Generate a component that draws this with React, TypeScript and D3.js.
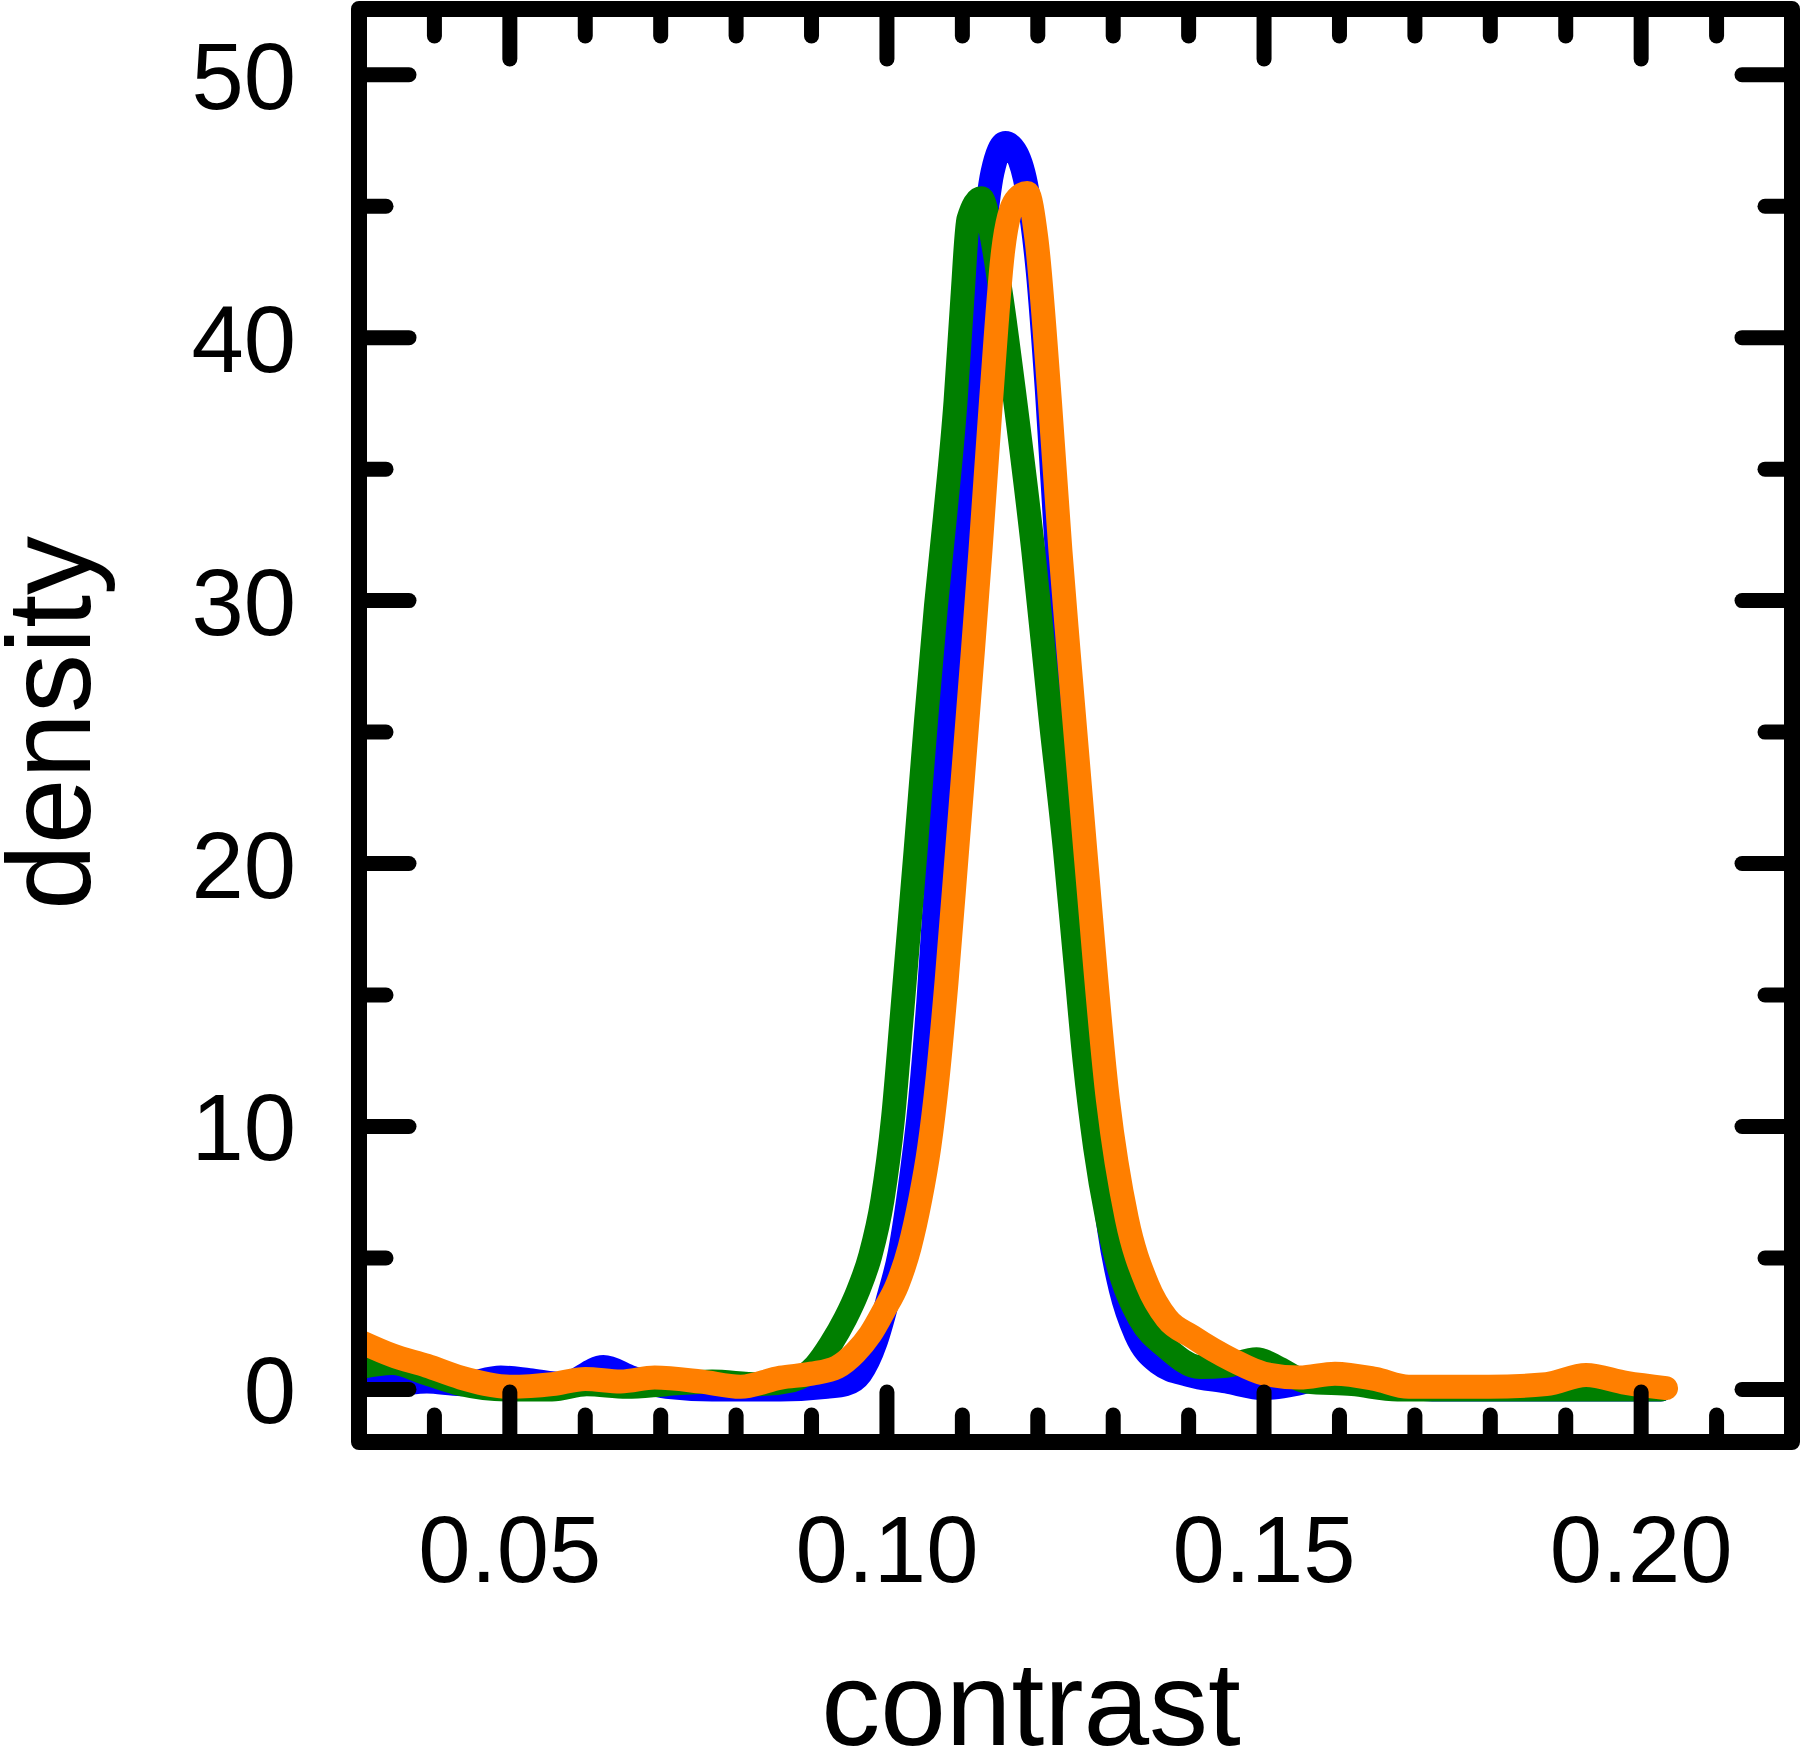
import React from "react";
import * as d3 from "d3";

const xTickMajor = [0.05, 0.1, 0.15, 0.2];
const xTickMajorLabels = ["0.05", "0.10", "0.15", "0.20"];
const xTickMinor = [0.04, 0.06, 0.07, 0.08, 0.09, 0.11, 0.12, 0.13, 0.14, 0.16, 0.17, 0.18, 0.19, 0.21];
const yTickMajor = [0, 10, 20, 30, 40, 50];
const yTickMinor = [5, 15, 25, 35, 45];

const blueX = [0.0303, 0.0344, 0.039, 0.0435, 0.0488, 0.0526, 0.0571, 0.0624, 0.0662, 0.0708, 0.0768, 0.0859, 0.092, 0.0945, 0.0965, 0.0985, 0.1002, 0.1017, 0.1028, 0.1044, 0.1055, 0.1068, 0.1078, 0.1088, 0.11, 0.1112, 0.1126, 0.114, 0.1157, 0.1172, 0.1186, 0.12, 0.1212, 0.1226, 0.124, 0.1255, 0.127, 0.1282, 0.1295, 0.131, 0.133, 0.136, 0.14, 0.145, 0.15, 0.1541, 0.1586, 0.1647, 0.1723, 0.2026];
const blueY = [0.4, 0.2, 0.3, 0.2, 0.45, 0.35, 0.2, 0.85, 0.45, 0.1, 0, 0, 0.1, 0.2, 0.6, 1.8, 3.5, 5.2, 7.2, 11, 14.8, 20.5, 24.5, 28.3, 33, 37.6, 43, 46.3, 47.4, 47, 45.6, 42.5, 38, 31.5, 25.5, 19, 13.2, 9.2, 6, 3.8, 2.1, 1.0, 0.55, 0.3, 0.05, 0.2, 0.45, 0.2, 0, 0];

const greenX = [0.0303, 0.0344, 0.039, 0.0435, 0.0495, 0.0556, 0.0602, 0.0655, 0.0708, 0.0768, 0.0829, 0.0875, 0.0905, 0.0925, 0.0945, 0.0961, 0.0978, 0.0994, 0.1008, 0.102, 0.1038, 0.1052, 0.1065, 0.1077, 0.1091, 0.11, 0.1108, 0.1125, 0.1138, 0.1152, 0.117, 0.1194, 0.1217, 0.1236, 0.1249, 0.1262, 0.1276, 0.1292, 0.1312, 0.1335, 0.137, 0.1415, 0.145, 0.149, 0.152, 0.1556, 0.1617, 0.1677, 0.2026];
const greenY = [0.85, 1.0, 0.6, 0.2, 0, 0, 0.2, 0.1, 0.2, 0.3, 0.2, 0.35, 0.9, 1.7, 2.7, 3.7, 5.1, 7.2, 10.3, 14.3, 20.5, 25.5, 29.8, 33.2, 37.6, 41.5, 44.5, 45.3, 44, 41.5, 37.6, 31.9, 25.5, 20.5, 16.5, 12.5, 9.2, 6.5, 4.2, 2.7, 1.6, 0.85, 0.9, 1.15, 0.8, 0.3, 0.2, 0, 0];

const orangeX = [0.0303, 0.0344, 0.039, 0.0435, 0.05, 0.0556, 0.06, 0.0647, 0.0692, 0.0753, 0.0806, 0.0859, 0.09, 0.0934, 0.0958, 0.0978, 0.0996, 0.1014, 0.103, 0.1044, 0.1056, 0.1067, 0.1079, 0.1093, 0.1114, 0.1124, 0.1138, 0.1154, 0.117, 0.1186, 0.1198, 0.1216, 0.123, 0.1241, 0.1263, 0.1293, 0.1318, 0.1345, 0.1371, 0.1405, 0.1459, 0.15, 0.1547, 0.1594, 0.1647, 0.1692, 0.1798, 0.1874, 0.1927, 0.198, 0.2033];
const orangeY = [1.8, 1.3, 0.9, 0.45, 0.1, 0.2, 0.4, 0.3, 0.45, 0.3, 0.1, 0.45, 0.6, 0.85, 1.4, 2.1, 3.0, 4.0, 5.4, 7.2, 9.2, 11.8, 15.5, 20.5, 28.1, 31.9, 37.6, 43.3, 45.2, 45.5, 43.8, 37.6, 31.9, 28, 20.5, 11, 6.5, 4, 2.7, 2, 1.1, 0.6, 0.45, 0.6, 0.4, 0.1, 0.1, 0.2, 0.55, 0.25, 0.05];

const series = [
  { name: "blue", xs: blueX, ys: blueY, color: "#0000ff" },
  { name: "green", xs: greenX, ys: greenY, color: "#007f00" },
  { name: "orange", xs: orangeX, ys: orangeY, color: "#ff7f00" },
];

const W = 1800;
const H = 1754;
const L = 359, R = 1792, T = 9, B = 1442;

export default function App() {
  const x = d3.scaleLinear().domain([0.03, 0.22]).range([L, R]);
  const y = d3.scaleLinear().domain([-2, 52.5]).range([B, T]);
  const line = d3
    .line<[number, number]>()
    .x((d) => x(d[0]))
    .y((d) => y(d[1]))
    .curve(d3.curveMonotoneX);

  const font = "'Liberation Sans', Arial, sans-serif";
  const tickW = 15;
  const majorLen = 50;
  const minorLen = 27;

  return (
    <svg
      width={W}
      height={H}
      style={{ position: "absolute", left: 0, top: 0, background: "#fff" }}
    >
      <rect x={0} y={0} width={W} height={H} fill="#fff" />
      <defs>
        <clipPath id="plotclip">
          <rect x={L} y={T} width={R - L} height={B - T} />
        </clipPath>
      </defs>
      <g clipPath="url(#plotclip)">
        {series.map((s) => (
          <path
            key={s.name}
            d={line(s.xs.map((v, i) => [v, s.ys[i]] as [number, number])) || ""}
            fill="none"
            stroke={s.color}
            strokeWidth={24}
            strokeLinejoin="round"
            strokeLinecap="round"
          />
        ))}
      </g>
      <g stroke="#000" strokeWidth={tickW} strokeLinecap="round">
        {xTickMajor.map((t) => (
          <g key={"xM" + t}>
            <line x1={x(t)} x2={x(t)} y1={B} y2={B - majorLen} />
            <line x1={x(t)} x2={x(t)} y1={T} y2={T + majorLen} />
          </g>
        ))}
        {xTickMinor.map((t) => (
          <g key={"xm" + t}>
            <line x1={x(t)} x2={x(t)} y1={B} y2={B - minorLen} />
            <line x1={x(t)} x2={x(t)} y1={T} y2={T + minorLen} />
          </g>
        ))}
        {yTickMajor.map((t) => (
          <g key={"yM" + t}>
            <line x1={L} x2={L + majorLen} y1={y(t)} y2={y(t)} />
            <line x1={R} x2={R - majorLen} y1={y(t)} y2={y(t)} />
          </g>
        ))}
        {yTickMinor.map((t) => (
          <g key={"ym" + t}>
            <line x1={L} x2={L + minorLen} y1={y(t)} y2={y(t)} />
            <line x1={R} x2={R - minorLen} y1={y(t)} y2={y(t)} />
          </g>
        ))}
      </g>
      <rect
        x={L}
        y={T}
        width={R - L}
        height={B - T}
        fill="none"
        stroke="#000"
        strokeWidth={16}
        strokeLinejoin="round"
      />
      <g fontFamily={font} fontSize={94} fill="#000">
        {yTickMajor.map((t) => (
          <text key={"yl" + t} x={296} y={y(t) + 34} textAnchor="end">
            {t}
          </text>
        ))}
        {xTickMajor.map((t, i) => (
          <text key={"xl" + t} x={x(t)} y={1582} textAnchor="middle">
            {xTickMajorLabels[i]}
          </text>
        ))}
      </g>
      <text
        x={1031}
        y={1745}
        textAnchor="middle"
        fontFamily={font}
        fontSize={118}
        fill="#000"
      >
        contrast
      </text>
      <text
        transform={`translate(90, 723) rotate(-90)`}
        textAnchor="middle"
        fontFamily={font}
        fontSize={118}
        fill="#000"
      >
        density
      </text>
    </svg>
  );
}
